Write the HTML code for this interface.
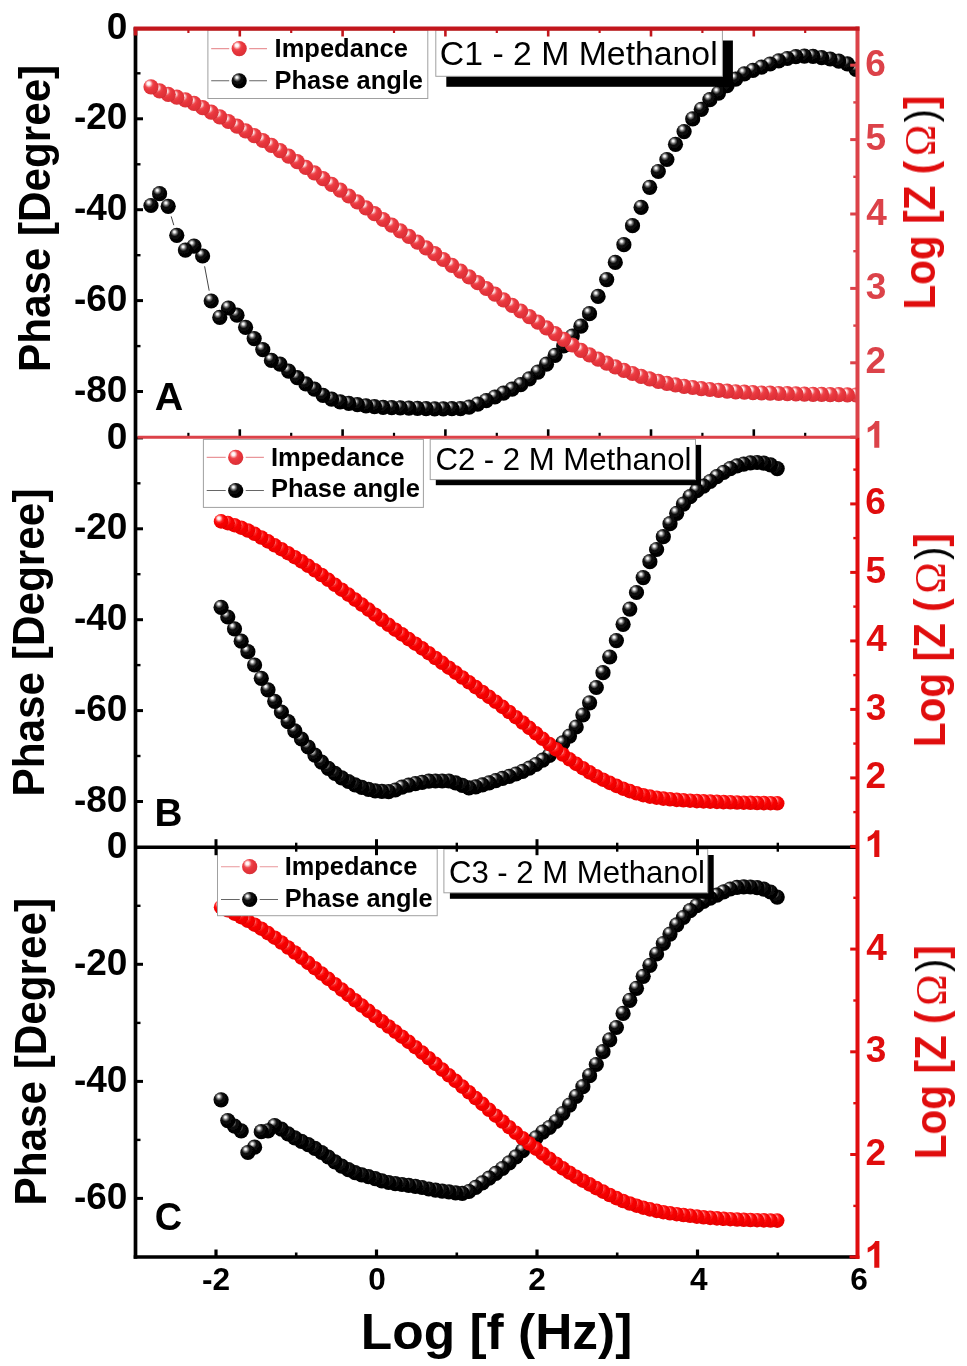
<!DOCTYPE html>
<html><head><meta charset="utf-8"><title>Bode plots</title>
<style>html,body{margin:0;padding:0;background:#fff}svg{display:block}text{font-family:"Liberation Sans",sans-serif}.b{font-weight:bold}.sf{font-family:"Liberation Serif",serif}</style></head><body>
<svg width="967" height="1366" viewBox="0 0 967 1366">
<defs>
<filter id="soft" x="-2%" y="-2%" width="104%" height="104%"><feGaussianBlur stdDeviation="0.5"/></filter>
<radialGradient id="gRA" cx="0.40" cy="0.36" r="0.70" fx="0.34" fy="0.27"><stop offset="0" stop-color="#ffffff"/><stop offset="0.15" stop-color="#fff0f0"/><stop offset="0.38" stop-color="#ee474d"/><stop offset="0.55" stop-color="#e8363c"/><stop offset="0.88" stop-color="#de3038"/><stop offset="1" stop-color="#bd242c"/></radialGradient>
<radialGradient id="gRB" cx="0.40" cy="0.36" r="0.70" fx="0.34" fy="0.27"><stop offset="0" stop-color="#ffffff"/><stop offset="0.14" stop-color="#ffe0e0"/><stop offset="0.36" stop-color="#ff2424"/><stop offset="0.55" stop-color="#f80000"/><stop offset="0.88" stop-color="#ec0000"/><stop offset="1" stop-color="#c00000"/></radialGradient>
<radialGradient id="gK" cx="0.40" cy="0.36" r="0.70" fx="0.34" fy="0.27"><stop offset="0" stop-color="#ffffff"/><stop offset="0.09" stop-color="#ececec"/><stop offset="0.23" stop-color="#707070"/><stop offset="0.39" stop-color="#0a0a0a"/><stop offset="1" stop-color="#000000"/></radialGradient>
<circle id="sRA" r="7.60" fill="url(#gRA)"/>
<circle id="sRB" r="7.30" fill="url(#gRB)"/>
<circle id="sK" r="7.60" fill="url(#gK)"/>
<clipPath id="cA"><rect x="135.5" y="28.0" width="723.5" height="409.3"/></clipPath>
<clipPath id="cB"><rect x="135.5" y="437.3" width="723.5" height="409.9"/></clipPath>
<clipPath id="cC"><rect x="135.5" y="847.2" width="723.5" height="409.8"/></clipPath>
</defs>
<rect width="967" height="1366" fill="#fff"/>
<g filter="url(#soft)">
<g clip-path="url(#cA)">
<path d="M171.2 216.4L173.8 225.2M204.6 266.3L209.2 290.7" fill="none" stroke="#444" stroke-width="1.0"/>
<use href="#sK" x="856.0" y="69.4"/><use href="#sK" x="847.4" y="63.9"/><use href="#sK" x="838.8" y="61.1"/><use href="#sK" x="830.2" y="59.0"/><use href="#sK" x="821.6" y="57.6"/><use href="#sK" x="813.0" y="56.4"/><use href="#sK" x="804.4" y="56.1"/><use href="#sK" x="795.9" y="56.7"/><use href="#sK" x="787.3" y="58.5"/><use href="#sK" x="778.7" y="60.8"/><use href="#sK" x="770.1" y="64.0"/><use href="#sK" x="761.5" y="67.1"/><use href="#sK" x="752.9" y="70.4"/><use href="#sK" x="744.3" y="73.8"/><use href="#sK" x="735.7" y="79.1"/><use href="#sK" x="727.1" y="85.6"/><use href="#sK" x="718.5" y="93.1"/><use href="#sK" x="709.9" y="99.7"/><use href="#sK" x="701.3" y="109.3"/><use href="#sK" x="692.7" y="118.9"/><use href="#sK" x="684.1" y="131.6"/><use href="#sK" x="675.5" y="144.3"/><use href="#sK" x="666.9" y="159.5"/><use href="#sK" x="658.3" y="171.5"/><use href="#sK" x="649.7" y="187.3"/><use href="#sK" x="641.1" y="207.3"/><use href="#sK" x="632.5" y="225.7"/><use href="#sK" x="623.9" y="244.7"/><use href="#sK" x="615.3" y="262.4"/><use href="#sK" x="606.7" y="279.6"/><use href="#sK" x="598.1" y="296.4"/><use href="#sK" x="589.5" y="313.7"/><use href="#sK" x="580.9" y="326.2"/><use href="#sK" x="572.3" y="336.1"/><use href="#sK" x="563.7" y="345.9"/><use href="#sK" x="555.1" y="355.4"/><use href="#sK" x="546.5" y="364.2"/><use href="#sK" x="537.9" y="372.1"/><use href="#sK" x="529.3" y="378.9"/><use href="#sK" x="520.7" y="384.7"/><use href="#sK" x="512.1" y="389.2"/><use href="#sK" x="503.5" y="393.2"/><use href="#sK" x="494.9" y="397.0"/><use href="#sK" x="486.3" y="400.6"/><use href="#sK" x="477.7" y="404.1"/><use href="#sK" x="469.1" y="407.1"/><use href="#sK" x="460.5" y="408.6"/><use href="#sK" x="451.9" y="408.7"/><use href="#sK" x="443.3" y="408.8"/><use href="#sK" x="434.7" y="408.8"/><use href="#sK" x="426.1" y="408.6"/><use href="#sK" x="417.5" y="408.3"/><use href="#sK" x="408.9" y="408.1"/><use href="#sK" x="400.3" y="407.9"/><use href="#sK" x="391.7" y="407.6"/><use href="#sK" x="383.1" y="407.4"/><use href="#sK" x="374.5" y="406.6"/><use href="#sK" x="366.0" y="405.8"/><use href="#sK" x="357.4" y="404.7"/><use href="#sK" x="348.8" y="403.4"/><use href="#sK" x="340.2" y="401.8"/><use href="#sK" x="331.6" y="399.1"/><use href="#sK" x="323.0" y="395.3"/><use href="#sK" x="314.4" y="389.1"/><use href="#sK" x="305.8" y="383.8"/><use href="#sK" x="297.2" y="377.6"/><use href="#sK" x="288.6" y="371.1"/><use href="#sK" x="280.0" y="364.1"/><use href="#sK" x="271.4" y="360.4"/><use href="#sK" x="262.8" y="349.6"/><use href="#sK" x="254.2" y="338.6"/><use href="#sK" x="245.6" y="327.3"/><use href="#sK" x="237.0" y="315.2"/><use href="#sK" x="228.4" y="308.0"/><use href="#sK" x="219.8" y="317.4"/><use href="#sK" x="211.2" y="301.0"/><use href="#sK" x="202.6" y="256.0"/><use href="#sK" x="194.0" y="246.1"/><use href="#sK" x="185.4" y="250.1"/><use href="#sK" x="176.8" y="235.3"/><use href="#sK" x="168.2" y="206.3"/><use href="#sK" x="159.6" y="193.7"/><use href="#sK" x="151.0" y="205.5"/>
<use href="#sRA" x="856.0" y="395.0"/><use href="#sRA" x="847.4" y="394.9"/><use href="#sRA" x="838.8" y="394.7"/><use href="#sRA" x="830.2" y="394.6"/><use href="#sRA" x="821.6" y="394.4"/><use href="#sRA" x="813.0" y="394.3"/><use href="#sRA" x="804.4" y="394.1"/><use href="#sRA" x="795.9" y="393.9"/><use href="#sRA" x="787.3" y="393.7"/><use href="#sRA" x="778.7" y="393.5"/><use href="#sRA" x="770.1" y="393.2"/><use href="#sRA" x="761.5" y="393.0"/><use href="#sRA" x="752.9" y="392.6"/><use href="#sRA" x="744.3" y="392.2"/><use href="#sRA" x="735.7" y="391.8"/><use href="#sRA" x="727.1" y="391.2"/><use href="#sRA" x="718.5" y="390.4"/><use href="#sRA" x="709.9" y="389.5"/><use href="#sRA" x="701.3" y="388.6"/><use href="#sRA" x="692.7" y="387.5"/><use href="#sRA" x="684.1" y="386.3"/><use href="#sRA" x="675.5" y="384.9"/><use href="#sRA" x="666.9" y="383.3"/><use href="#sRA" x="658.3" y="381.3"/><use href="#sRA" x="649.7" y="378.9"/><use href="#sRA" x="641.1" y="376.3"/><use href="#sRA" x="632.5" y="373.5"/><use href="#sRA" x="623.9" y="370.3"/><use href="#sRA" x="615.3" y="366.8"/><use href="#sRA" x="606.7" y="363.2"/><use href="#sRA" x="598.1" y="359.2"/><use href="#sRA" x="589.5" y="354.9"/><use href="#sRA" x="580.9" y="350.3"/><use href="#sRA" x="572.3" y="345.0"/><use href="#sRA" x="563.7" y="339.3"/><use href="#sRA" x="555.1" y="333.6"/><use href="#sRA" x="546.5" y="327.9"/><use href="#sRA" x="537.9" y="322.2"/><use href="#sRA" x="529.3" y="316.6"/><use href="#sRA" x="520.7" y="311.0"/><use href="#sRA" x="512.1" y="305.4"/><use href="#sRA" x="503.5" y="299.8"/><use href="#sRA" x="494.9" y="294.2"/><use href="#sRA" x="486.3" y="288.5"/><use href="#sRA" x="477.7" y="282.7"/><use href="#sRA" x="469.1" y="276.9"/><use href="#sRA" x="460.5" y="271.1"/><use href="#sRA" x="451.9" y="265.3"/><use href="#sRA" x="443.3" y="259.5"/><use href="#sRA" x="434.7" y="253.7"/><use href="#sRA" x="426.1" y="247.9"/><use href="#sRA" x="417.5" y="242.1"/><use href="#sRA" x="408.9" y="236.4"/><use href="#sRA" x="400.3" y="230.8"/><use href="#sRA" x="391.7" y="225.2"/><use href="#sRA" x="383.1" y="219.5"/><use href="#sRA" x="374.5" y="213.7"/><use href="#sRA" x="366.0" y="207.8"/><use href="#sRA" x="357.4" y="201.9"/><use href="#sRA" x="348.8" y="196.0"/><use href="#sRA" x="340.2" y="190.2"/><use href="#sRA" x="331.6" y="184.4"/><use href="#sRA" x="323.0" y="178.6"/><use href="#sRA" x="314.4" y="172.9"/><use href="#sRA" x="305.8" y="167.3"/><use href="#sRA" x="297.2" y="161.6"/><use href="#sRA" x="288.6" y="156.1"/><use href="#sRA" x="280.0" y="150.6"/><use href="#sRA" x="271.4" y="145.4"/><use href="#sRA" x="262.8" y="140.5"/><use href="#sRA" x="254.2" y="135.6"/><use href="#sRA" x="245.6" y="130.9"/><use href="#sRA" x="237.0" y="126.2"/><use href="#sRA" x="228.4" y="121.5"/><use href="#sRA" x="219.8" y="116.8"/><use href="#sRA" x="211.2" y="112.2"/><use href="#sRA" x="202.6" y="107.7"/><use href="#sRA" x="194.0" y="103.4"/><use href="#sRA" x="185.4" y="99.8"/><use href="#sRA" x="176.8" y="97.2"/><use href="#sRA" x="168.2" y="94.4"/><use href="#sRA" x="159.6" y="90.9"/><use href="#sRA" x="151.0" y="86.8"/>
</g><g clip-path="url(#cB)">

<use href="#sK" x="777.2" y="468.6"/><use href="#sK" x="770.5" y="464.8"/><use href="#sK" x="763.8" y="463.1"/><use href="#sK" x="757.1" y="462.5"/><use href="#sK" x="750.4" y="462.9"/><use href="#sK" x="743.7" y="464.1"/><use href="#sK" x="737.0" y="465.9"/><use href="#sK" x="730.3" y="468.6"/><use href="#sK" x="723.6" y="472.3"/><use href="#sK" x="716.9" y="476.6"/><use href="#sK" x="710.2" y="481.5"/><use href="#sK" x="703.5" y="486.2"/><use href="#sK" x="696.8" y="490.7"/><use href="#sK" x="690.1" y="496.7"/><use href="#sK" x="683.4" y="504.1"/><use href="#sK" x="676.7" y="513.3"/><use href="#sK" x="670.0" y="523.7"/><use href="#sK" x="663.3" y="536.7"/><use href="#sK" x="656.6" y="549.5"/><use href="#sK" x="649.9" y="561.7"/><use href="#sK" x="643.2" y="577.6"/><use href="#sK" x="636.5" y="592.5"/><use href="#sK" x="629.8" y="609.1"/><use href="#sK" x="623.1" y="624.3"/><use href="#sK" x="616.4" y="640.6"/><use href="#sK" x="609.7" y="657.0"/><use href="#sK" x="603.0" y="672.7"/><use href="#sK" x="596.3" y="687.5"/><use href="#sK" x="589.6" y="702.8"/><use href="#sK" x="582.9" y="715.0"/><use href="#sK" x="576.2" y="727.0"/><use href="#sK" x="569.5" y="736.1"/><use href="#sK" x="562.8" y="742.9"/><use href="#sK" x="556.1" y="749.4"/><use href="#sK" x="549.4" y="755.3"/><use href="#sK" x="542.7" y="760.2"/><use href="#sK" x="536.0" y="764.5"/><use href="#sK" x="529.3" y="768.2"/><use href="#sK" x="522.6" y="771.4"/><use href="#sK" x="515.9" y="774.0"/><use href="#sK" x="509.2" y="776.3"/><use href="#sK" x="502.5" y="778.4"/><use href="#sK" x="495.8" y="780.6"/><use href="#sK" x="489.1" y="782.8"/><use href="#sK" x="482.4" y="784.8"/><use href="#sK" x="475.7" y="786.9"/><use href="#sK" x="469.0" y="787.8"/><use href="#sK" x="462.3" y="785.4"/><use href="#sK" x="455.6" y="782.9"/><use href="#sK" x="448.9" y="781.0"/><use href="#sK" x="442.2" y="781.0"/><use href="#sK" x="435.5" y="781.0"/><use href="#sK" x="428.8" y="781.2"/><use href="#sK" x="422.1" y="782.3"/><use href="#sK" x="415.4" y="783.6"/><use href="#sK" x="408.7" y="785.2"/><use href="#sK" x="402.0" y="787.1"/><use href="#sK" x="395.3" y="790.0"/><use href="#sK" x="388.6" y="791.6"/><use href="#sK" x="381.9" y="791.4"/><use href="#sK" x="375.2" y="790.8"/><use href="#sK" x="368.5" y="789.4"/><use href="#sK" x="361.8" y="787.4"/><use href="#sK" x="355.1" y="784.8"/><use href="#sK" x="348.4" y="781.5"/><use href="#sK" x="341.7" y="777.8"/><use href="#sK" x="335.0" y="773.4"/><use href="#sK" x="328.3" y="768.3"/><use href="#sK" x="321.6" y="762.2"/><use href="#sK" x="314.9" y="755.1"/><use href="#sK" x="308.2" y="747.0"/><use href="#sK" x="301.5" y="739.0"/><use href="#sK" x="294.8" y="730.8"/><use href="#sK" x="288.1" y="721.7"/><use href="#sK" x="281.4" y="712.0"/><use href="#sK" x="274.7" y="701.3"/><use href="#sK" x="268.0" y="689.8"/><use href="#sK" x="261.3" y="678.3"/><use href="#sK" x="254.6" y="665.0"/><use href="#sK" x="247.9" y="651.7"/><use href="#sK" x="241.2" y="641.2"/><use href="#sK" x="234.5" y="628.8"/><use href="#sK" x="227.8" y="617.0"/><use href="#sK" x="221.1" y="607.3"/>
<use href="#sRB" x="777.2" y="803.3"/><use href="#sRB" x="770.5" y="803.2"/><use href="#sRB" x="763.8" y="803.1"/><use href="#sRB" x="757.1" y="803.0"/><use href="#sRB" x="750.4" y="802.8"/><use href="#sRB" x="743.7" y="802.7"/><use href="#sRB" x="737.0" y="802.5"/><use href="#sRB" x="730.3" y="802.3"/><use href="#sRB" x="723.6" y="802.1"/><use href="#sRB" x="716.9" y="801.9"/><use href="#sRB" x="710.2" y="801.6"/><use href="#sRB" x="703.5" y="801.4"/><use href="#sRB" x="696.8" y="801.1"/><use href="#sRB" x="690.1" y="800.7"/><use href="#sRB" x="683.4" y="800.3"/><use href="#sRB" x="676.7" y="799.9"/><use href="#sRB" x="670.0" y="799.3"/><use href="#sRB" x="663.3" y="798.6"/><use href="#sRB" x="656.6" y="797.7"/><use href="#sRB" x="649.9" y="796.6"/><use href="#sRB" x="643.2" y="795.2"/><use href="#sRB" x="636.5" y="793.3"/><use href="#sRB" x="629.8" y="791.1"/><use href="#sRB" x="623.1" y="788.7"/><use href="#sRB" x="616.4" y="785.9"/><use href="#sRB" x="609.7" y="782.9"/><use href="#sRB" x="603.0" y="779.7"/><use href="#sRB" x="596.3" y="776.2"/><use href="#sRB" x="589.6" y="772.4"/><use href="#sRB" x="582.9" y="768.2"/><use href="#sRB" x="576.2" y="763.9"/><use href="#sRB" x="569.5" y="759.3"/><use href="#sRB" x="562.8" y="754.5"/><use href="#sRB" x="556.1" y="749.4"/><use href="#sRB" x="549.4" y="744.1"/><use href="#sRB" x="542.7" y="738.8"/><use href="#sRB" x="536.0" y="733.4"/><use href="#sRB" x="529.3" y="727.9"/><use href="#sRB" x="522.6" y="722.5"/><use href="#sRB" x="515.9" y="717.2"/><use href="#sRB" x="509.2" y="712.0"/><use href="#sRB" x="502.5" y="706.9"/><use href="#sRB" x="495.8" y="701.8"/><use href="#sRB" x="489.1" y="696.9"/><use href="#sRB" x="482.4" y="692.0"/><use href="#sRB" x="475.7" y="687.1"/><use href="#sRB" x="469.0" y="682.3"/><use href="#sRB" x="462.3" y="677.5"/><use href="#sRB" x="455.6" y="672.6"/><use href="#sRB" x="448.9" y="667.7"/><use href="#sRB" x="442.2" y="662.8"/><use href="#sRB" x="435.5" y="658.0"/><use href="#sRB" x="428.8" y="653.2"/><use href="#sRB" x="422.1" y="648.4"/><use href="#sRB" x="415.4" y="643.7"/><use href="#sRB" x="408.7" y="639.1"/><use href="#sRB" x="402.0" y="634.4"/><use href="#sRB" x="395.3" y="629.7"/><use href="#sRB" x="388.6" y="624.8"/><use href="#sRB" x="381.9" y="619.8"/><use href="#sRB" x="375.2" y="614.7"/><use href="#sRB" x="368.5" y="609.6"/><use href="#sRB" x="361.8" y="604.6"/><use href="#sRB" x="355.1" y="599.6"/><use href="#sRB" x="348.4" y="594.6"/><use href="#sRB" x="341.7" y="589.7"/><use href="#sRB" x="335.0" y="584.8"/><use href="#sRB" x="328.3" y="579.8"/><use href="#sRB" x="321.6" y="575.0"/><use href="#sRB" x="314.9" y="570.3"/><use href="#sRB" x="308.2" y="565.8"/><use href="#sRB" x="301.5" y="561.4"/><use href="#sRB" x="294.8" y="557.2"/><use href="#sRB" x="288.1" y="553.2"/><use href="#sRB" x="281.4" y="549.2"/><use href="#sRB" x="274.7" y="545.3"/><use href="#sRB" x="268.0" y="541.4"/><use href="#sRB" x="261.3" y="537.5"/><use href="#sRB" x="254.6" y="533.8"/><use href="#sRB" x="247.9" y="530.5"/><use href="#sRB" x="241.2" y="527.7"/><use href="#sRB" x="234.5" y="525.2"/><use href="#sRB" x="227.8" y="523.1"/><use href="#sRB" x="221.1" y="521.4"/>
</g><g clip-path="url(#cC)">

<use href="#sK" x="777.2" y="897.1"/><use href="#sK" x="770.5" y="892.0"/><use href="#sK" x="763.8" y="889.2"/><use href="#sK" x="757.1" y="887.7"/><use href="#sK" x="750.4" y="887.0"/><use href="#sK" x="743.7" y="886.8"/><use href="#sK" x="737.0" y="887.4"/><use href="#sK" x="730.3" y="889.0"/><use href="#sK" x="723.6" y="891.8"/><use href="#sK" x="716.9" y="895.1"/><use href="#sK" x="710.2" y="898.1"/><use href="#sK" x="703.5" y="901.4"/><use href="#sK" x="696.8" y="905.7"/><use href="#sK" x="690.1" y="910.7"/><use href="#sK" x="683.4" y="917.5"/><use href="#sK" x="676.7" y="924.9"/><use href="#sK" x="670.0" y="934.1"/><use href="#sK" x="663.3" y="943.5"/><use href="#sK" x="656.6" y="954.0"/><use href="#sK" x="649.9" y="965.3"/><use href="#sK" x="643.2" y="976.3"/><use href="#sK" x="636.5" y="988.3"/><use href="#sK" x="629.8" y="1000.3"/><use href="#sK" x="623.1" y="1013.4"/><use href="#sK" x="616.4" y="1027.5"/><use href="#sK" x="609.7" y="1039.9"/><use href="#sK" x="603.0" y="1051.7"/><use href="#sK" x="596.3" y="1064.5"/><use href="#sK" x="589.6" y="1075.7"/><use href="#sK" x="582.9" y="1086.7"/><use href="#sK" x="576.2" y="1096.3"/><use href="#sK" x="569.5" y="1105.1"/><use href="#sK" x="562.8" y="1113.5"/><use href="#sK" x="556.1" y="1121.5"/><use href="#sK" x="549.4" y="1127.5"/><use href="#sK" x="542.7" y="1132.1"/><use href="#sK" x="536.0" y="1137.8"/><use href="#sK" x="529.3" y="1144.3"/><use href="#sK" x="522.6" y="1150.7"/><use href="#sK" x="515.9" y="1156.9"/><use href="#sK" x="509.2" y="1162.9"/><use href="#sK" x="502.5" y="1168.5"/><use href="#sK" x="495.8" y="1173.4"/><use href="#sK" x="489.1" y="1178.2"/><use href="#sK" x="482.4" y="1182.9"/><use href="#sK" x="475.7" y="1187.4"/><use href="#sK" x="469.0" y="1191.5"/><use href="#sK" x="462.3" y="1193.4"/><use href="#sK" x="455.6" y="1192.8"/><use href="#sK" x="448.9" y="1191.9"/><use href="#sK" x="442.2" y="1191.1"/><use href="#sK" x="435.5" y="1190.1"/><use href="#sK" x="428.8" y="1189.0"/><use href="#sK" x="422.1" y="1187.5"/><use href="#sK" x="415.4" y="1186.3"/><use href="#sK" x="408.7" y="1185.4"/><use href="#sK" x="402.0" y="1184.5"/><use href="#sK" x="395.3" y="1183.6"/><use href="#sK" x="388.6" y="1182.5"/><use href="#sK" x="381.9" y="1180.9"/><use href="#sK" x="375.2" y="1178.7"/><use href="#sK" x="368.5" y="1176.7"/><use href="#sK" x="361.8" y="1174.8"/><use href="#sK" x="355.1" y="1172.7"/><use href="#sK" x="348.4" y="1169.7"/><use href="#sK" x="341.7" y="1166.1"/><use href="#sK" x="335.0" y="1161.9"/><use href="#sK" x="328.3" y="1157.0"/><use href="#sK" x="321.6" y="1152.5"/><use href="#sK" x="314.9" y="1148.4"/><use href="#sK" x="308.2" y="1144.6"/><use href="#sK" x="301.5" y="1141.3"/><use href="#sK" x="294.8" y="1137.9"/><use href="#sK" x="288.1" y="1133.9"/><use href="#sK" x="281.4" y="1129.2"/><use href="#sK" x="274.7" y="1125.5"/><use href="#sK" x="268.0" y="1130.8"/><use href="#sK" x="261.3" y="1131.7"/><use href="#sK" x="254.6" y="1147.2"/><use href="#sK" x="247.9" y="1152.5"/><use href="#sK" x="241.2" y="1130.8"/><use href="#sK" x="234.5" y="1126.1"/><use href="#sK" x="227.8" y="1120.6"/><use href="#sK" x="221.1" y="1099.8"/>
<use href="#sRB" x="777.2" y="1220.6"/><use href="#sRB" x="770.5" y="1220.5"/><use href="#sRB" x="763.8" y="1220.4"/><use href="#sRB" x="757.1" y="1220.2"/><use href="#sRB" x="750.4" y="1220.0"/><use href="#sRB" x="743.7" y="1219.8"/><use href="#sRB" x="737.0" y="1219.5"/><use href="#sRB" x="730.3" y="1219.2"/><use href="#sRB" x="723.6" y="1218.8"/><use href="#sRB" x="716.9" y="1218.4"/><use href="#sRB" x="710.2" y="1217.9"/><use href="#sRB" x="703.5" y="1217.3"/><use href="#sRB" x="696.8" y="1216.6"/><use href="#sRB" x="690.1" y="1215.8"/><use href="#sRB" x="683.4" y="1215.0"/><use href="#sRB" x="676.7" y="1214.2"/><use href="#sRB" x="670.0" y="1213.3"/><use href="#sRB" x="663.3" y="1212.2"/><use href="#sRB" x="656.6" y="1210.9"/><use href="#sRB" x="649.9" y="1209.4"/><use href="#sRB" x="643.2" y="1207.7"/><use href="#sRB" x="636.5" y="1205.7"/><use href="#sRB" x="629.8" y="1203.5"/><use href="#sRB" x="623.1" y="1201.0"/><use href="#sRB" x="616.4" y="1198.1"/><use href="#sRB" x="609.7" y="1195.0"/><use href="#sRB" x="603.0" y="1191.6"/><use href="#sRB" x="596.3" y="1188.1"/><use href="#sRB" x="589.6" y="1184.4"/><use href="#sRB" x="582.9" y="1180.7"/><use href="#sRB" x="576.2" y="1176.8"/><use href="#sRB" x="569.5" y="1172.7"/><use href="#sRB" x="562.8" y="1168.4"/><use href="#sRB" x="556.1" y="1163.7"/><use href="#sRB" x="549.4" y="1158.7"/><use href="#sRB" x="542.7" y="1153.7"/><use href="#sRB" x="536.0" y="1148.6"/><use href="#sRB" x="529.3" y="1143.5"/><use href="#sRB" x="522.6" y="1138.2"/><use href="#sRB" x="515.9" y="1132.8"/><use href="#sRB" x="509.2" y="1127.2"/><use href="#sRB" x="502.5" y="1121.5"/><use href="#sRB" x="495.8" y="1115.7"/><use href="#sRB" x="489.1" y="1109.8"/><use href="#sRB" x="482.4" y="1103.9"/><use href="#sRB" x="475.7" y="1098.1"/><use href="#sRB" x="469.0" y="1092.3"/><use href="#sRB" x="462.3" y="1086.6"/><use href="#sRB" x="455.6" y="1080.9"/><use href="#sRB" x="448.9" y="1075.3"/><use href="#sRB" x="442.2" y="1069.6"/><use href="#sRB" x="435.5" y="1063.9"/><use href="#sRB" x="428.8" y="1058.2"/><use href="#sRB" x="422.1" y="1052.6"/><use href="#sRB" x="415.4" y="1047.2"/><use href="#sRB" x="408.7" y="1041.9"/><use href="#sRB" x="402.0" y="1036.7"/><use href="#sRB" x="395.3" y="1031.6"/><use href="#sRB" x="388.6" y="1026.5"/><use href="#sRB" x="381.9" y="1021.3"/><use href="#sRB" x="375.2" y="1016.2"/><use href="#sRB" x="368.5" y="1010.9"/><use href="#sRB" x="361.8" y="1005.6"/><use href="#sRB" x="355.1" y="1000.3"/><use href="#sRB" x="348.4" y="994.9"/><use href="#sRB" x="341.7" y="989.6"/><use href="#sRB" x="335.0" y="984.2"/><use href="#sRB" x="328.3" y="978.9"/><use href="#sRB" x="321.6" y="973.6"/><use href="#sRB" x="314.9" y="968.2"/><use href="#sRB" x="308.2" y="962.9"/><use href="#sRB" x="301.5" y="957.6"/><use href="#sRB" x="294.8" y="952.5"/><use href="#sRB" x="288.1" y="947.5"/><use href="#sRB" x="281.4" y="942.5"/><use href="#sRB" x="274.7" y="937.7"/><use href="#sRB" x="268.0" y="933.1"/><use href="#sRB" x="261.3" y="928.7"/><use href="#sRB" x="254.6" y="924.7"/><use href="#sRB" x="247.9" y="920.8"/><use href="#sRB" x="241.2" y="917.1"/><use href="#sRB" x="234.5" y="913.6"/><use href="#sRB" x="227.8" y="910.3"/><use href="#sRB" x="221.1" y="907.2"/>
</g>
<rect x="207.9" y="30.0" width="219.9" height="68.5" fill="#fff" stroke="#a0a0a0" stroke-width="1"/>
<path d="M211.2 48.6H229.2M249.2 48.6H267.0" stroke="#e9969a" stroke-width="1.1" fill="none"/>
<use href="#sRA" x="239.2" y="48.6"/>
<text class="b" x="274.59" y="57.00" font-size="26.00" fill="#000" textLength="133.28" lengthAdjust="spacingAndGlyphs">Impedance</text>
<path d="M211.2 80.8H229.2M249.2 80.8H267.0" stroke="#666" stroke-width="1.1" fill="none"/>
<use href="#sK" x="239.2" y="80.8"/>
<text class="b" x="274.60" y="89.20" font-size="26.00" fill="#000" textLength="148.27" lengthAdjust="spacingAndGlyphs">Phase angle</text>
<rect x="203.4" y="439.4" width="220.0" height="68.0" fill="#fff" stroke="#a0a0a0" stroke-width="1"/>
<path d="M206.7 457.4H225.7M245.7 457.4H263.9" stroke="#e9969a" stroke-width="1.1" fill="none"/>
<use href="#sRA" x="235.7" y="457.4"/>
<text class="b" x="270.89" y="465.70" font-size="26.00" fill="#000" textLength="133.58" lengthAdjust="spacingAndGlyphs">Impedance</text>
<path d="M206.7 490.5H225.7M245.7 490.5H263.9" stroke="#666" stroke-width="1.1" fill="none"/>
<use href="#sK" x="235.7" y="490.5"/>
<text class="b" x="270.89" y="497.40" font-size="26.00" fill="#000" textLength="148.98" lengthAdjust="spacingAndGlyphs">Phase angle</text>
<rect x="217.5" y="849.0" width="219.7" height="66.7" fill="#fff" stroke="#a0a0a0" stroke-width="1"/>
<path d="M221.0 866.7H239.7M259.7 866.7H278.0" stroke="#e9969a" stroke-width="1.1" fill="none"/>
<use href="#sRA" x="249.7" y="866.7"/>
<text class="b" x="284.70" y="875.20" font-size="26.00" fill="#000" textLength="132.56" lengthAdjust="spacingAndGlyphs">Impedance</text>
<path d="M221.0 899.5H239.7M259.7 899.5H278.0" stroke="#666" stroke-width="1.1" fill="none"/>
<use href="#sK" x="249.7" y="899.5"/>
<text class="b" x="284.71" y="907.20" font-size="26.00" fill="#000" textLength="147.86" lengthAdjust="spacingAndGlyphs">Phase angle</text>
<rect x="446.3" y="40.5" width="286.6" height="46.3" fill="#000"/>
<rect x="435.8" y="30.0" width="286.6" height="46.3" fill="#fff" stroke="#a0a0a0" stroke-width="1"/>
<text x="439.89" y="64.70" font-size="33.40" fill="#000" textLength="277.77" lengthAdjust="spacingAndGlyphs">C1 - 2 M Methanol</text>
<rect x="435.8" y="444.9" width="265.3" height="40.3" fill="#000"/>
<rect x="430.2" y="439.3" width="265.3" height="40.3" fill="#fff" stroke="#a0a0a0" stroke-width="1"/>
<text x="435.42" y="470.30" font-size="31.50" fill="#000" textLength="255.96" lengthAdjust="spacingAndGlyphs">C2 - 2 M Methanol</text>
<rect x="449.9" y="855.0" width="263.8" height="43.8" fill="#000"/>
<rect x="443.9" y="849.0" width="263.8" height="43.8" fill="#fff" stroke="#a0a0a0" stroke-width="1"/>
<text x="448.92" y="883.30" font-size="31.50" fill="#000" textLength="255.96" lengthAdjust="spacingAndGlyphs">C3 - 2 M Methanol</text>
<line x1="239.8" y1="429.3" x2="239.8" y2="437.3" stroke="#000" stroke-width="2.6"/>
<line x1="342.6" y1="429.3" x2="342.6" y2="437.3" stroke="#000" stroke-width="2.6"/>
<line x1="445.4" y1="429.3" x2="445.4" y2="437.3" stroke="#000" stroke-width="2.6"/>
<line x1="548.2" y1="429.3" x2="548.2" y2="437.3" stroke="#000" stroke-width="2.6"/>
<line x1="651.0" y1="429.3" x2="651.0" y2="437.3" stroke="#000" stroke-width="2.6"/>
<line x1="753.8" y1="429.3" x2="753.8" y2="437.3" stroke="#000" stroke-width="2.6"/>
<line x1="188.4" y1="432.8" x2="188.4" y2="437.3" stroke="#000" stroke-width="2.2"/>
<line x1="291.2" y1="432.8" x2="291.2" y2="437.3" stroke="#000" stroke-width="2.2"/>
<line x1="394.0" y1="432.8" x2="394.0" y2="437.3" stroke="#000" stroke-width="2.2"/>
<line x1="496.8" y1="432.8" x2="496.8" y2="437.3" stroke="#000" stroke-width="2.2"/>
<line x1="599.6" y1="432.8" x2="599.6" y2="437.3" stroke="#000" stroke-width="2.2"/>
<line x1="702.4" y1="432.8" x2="702.4" y2="437.3" stroke="#000" stroke-width="2.2"/>
<line x1="805.2" y1="432.8" x2="805.2" y2="437.3" stroke="#000" stroke-width="2.2"/>
<line x1="239.8" y1="28.0" x2="239.8" y2="36.5" stroke="#c2181e" stroke-width="2.6"/>
<line x1="342.6" y1="28.0" x2="342.6" y2="36.5" stroke="#c2181e" stroke-width="2.6"/>
<line x1="445.4" y1="28.0" x2="445.4" y2="36.5" stroke="#c2181e" stroke-width="2.6"/>
<line x1="548.2" y1="28.0" x2="548.2" y2="36.5" stroke="#c2181e" stroke-width="2.6"/>
<line x1="651.0" y1="28.0" x2="651.0" y2="36.5" stroke="#c2181e" stroke-width="2.6"/>
<line x1="753.8" y1="28.0" x2="753.8" y2="36.5" stroke="#c2181e" stroke-width="2.6"/>
<line x1="188.4" y1="28.0" x2="188.4" y2="33.0" stroke="#c2181e" stroke-width="2.2"/>
<line x1="291.2" y1="28.0" x2="291.2" y2="33.0" stroke="#c2181e" stroke-width="2.2"/>
<line x1="394.0" y1="28.0" x2="394.0" y2="33.0" stroke="#c2181e" stroke-width="2.2"/>
<line x1="496.8" y1="28.0" x2="496.8" y2="33.0" stroke="#c2181e" stroke-width="2.2"/>
<line x1="599.6" y1="28.0" x2="599.6" y2="33.0" stroke="#c2181e" stroke-width="2.2"/>
<line x1="702.4" y1="28.0" x2="702.4" y2="33.0" stroke="#c2181e" stroke-width="2.2"/>
<line x1="805.2" y1="28.0" x2="805.2" y2="33.0" stroke="#c2181e" stroke-width="2.2"/>
<line x1="216.0" y1="839.2" x2="216.0" y2="855.2" stroke="#000" stroke-width="3.0"/>
<line x1="216.0" y1="1249.5" x2="216.0" y2="1257.0" stroke="#000" stroke-width="3.2"/>
<line x1="376.5" y1="839.2" x2="376.5" y2="855.2" stroke="#000" stroke-width="3.0"/>
<line x1="376.5" y1="1249.5" x2="376.5" y2="1257.0" stroke="#000" stroke-width="3.2"/>
<line x1="537.0" y1="839.2" x2="537.0" y2="855.2" stroke="#000" stroke-width="3.0"/>
<line x1="537.0" y1="1249.5" x2="537.0" y2="1257.0" stroke="#000" stroke-width="3.2"/>
<line x1="697.5" y1="839.2" x2="697.5" y2="855.2" stroke="#000" stroke-width="3.0"/>
<line x1="697.5" y1="1249.5" x2="697.5" y2="1257.0" stroke="#000" stroke-width="3.2"/>
<line x1="296.2" y1="842.7" x2="296.2" y2="851.7" stroke="#000" stroke-width="2.4"/>
<line x1="296.2" y1="1252.5" x2="296.2" y2="1257.0" stroke="#000" stroke-width="2.6"/>
<line x1="456.8" y1="842.7" x2="456.8" y2="851.7" stroke="#000" stroke-width="2.4"/>
<line x1="456.8" y1="1252.5" x2="456.8" y2="1257.0" stroke="#000" stroke-width="2.6"/>
<line x1="617.2" y1="842.7" x2="617.2" y2="851.7" stroke="#000" stroke-width="2.4"/>
<line x1="617.2" y1="1252.5" x2="617.2" y2="1257.0" stroke="#000" stroke-width="2.6"/>
<line x1="777.8" y1="842.7" x2="777.8" y2="851.7" stroke="#000" stroke-width="2.4"/>
<line x1="777.8" y1="1252.5" x2="777.8" y2="1257.0" stroke="#000" stroke-width="2.6"/>
<line x1="135.5" y1="118.8" x2="143.0" y2="118.8" stroke="#000" stroke-width="3.0"/>
<line x1="135.5" y1="209.7" x2="143.0" y2="209.7" stroke="#000" stroke-width="3.0"/>
<line x1="135.5" y1="300.6" x2="143.0" y2="300.6" stroke="#000" stroke-width="3.0"/>
<line x1="135.5" y1="391.5" x2="143.0" y2="391.5" stroke="#000" stroke-width="3.0"/>
<line x1="135.5" y1="73.3" x2="140.5" y2="73.3" stroke="#000" stroke-width="2.4"/>
<line x1="135.5" y1="164.3" x2="140.5" y2="164.3" stroke="#000" stroke-width="2.4"/>
<line x1="135.5" y1="255.2" x2="140.5" y2="255.2" stroke="#000" stroke-width="2.4"/>
<line x1="135.5" y1="346.1" x2="140.5" y2="346.1" stroke="#000" stroke-width="2.4"/>
<line x1="135.5" y1="528.8" x2="143.0" y2="528.8" stroke="#000" stroke-width="3.0"/>
<line x1="135.5" y1="619.7" x2="143.0" y2="619.7" stroke="#000" stroke-width="3.0"/>
<line x1="135.5" y1="710.6" x2="143.0" y2="710.6" stroke="#000" stroke-width="3.0"/>
<line x1="135.5" y1="801.5" x2="143.0" y2="801.5" stroke="#000" stroke-width="3.0"/>
<line x1="135.5" y1="483.3" x2="140.5" y2="483.3" stroke="#000" stroke-width="2.4"/>
<line x1="135.5" y1="574.2" x2="140.5" y2="574.2" stroke="#000" stroke-width="2.4"/>
<line x1="135.5" y1="665.1" x2="140.5" y2="665.1" stroke="#000" stroke-width="2.4"/>
<line x1="135.5" y1="756.0" x2="140.5" y2="756.0" stroke="#000" stroke-width="2.4"/>
<line x1="135.5" y1="964.3" x2="143.0" y2="964.3" stroke="#000" stroke-width="3.0"/>
<line x1="135.5" y1="1081.4" x2="143.0" y2="1081.4" stroke="#000" stroke-width="3.0"/>
<line x1="135.5" y1="1198.4" x2="143.0" y2="1198.4" stroke="#000" stroke-width="3.0"/>
<line x1="135.5" y1="905.8" x2="140.5" y2="905.8" stroke="#000" stroke-width="2.4"/>
<line x1="135.5" y1="1022.9" x2="140.5" y2="1022.9" stroke="#000" stroke-width="2.4"/>
<line x1="135.5" y1="1139.9" x2="140.5" y2="1139.9" stroke="#000" stroke-width="2.4"/>
<line x1="135.5" y1="437.9" x2="143.0" y2="437.9" stroke="#000" stroke-width="3.0"/>
<line x1="850.2" y1="437.2" x2="857.5" y2="437.2" stroke="#dc4249" stroke-width="3.0"/>
<line x1="850.2" y1="362.8" x2="857.5" y2="362.8" stroke="#dc4249" stroke-width="3.0"/>
<line x1="850.2" y1="288.4" x2="857.5" y2="288.4" stroke="#dc4249" stroke-width="3.0"/>
<line x1="850.2" y1="214.0" x2="857.5" y2="214.0" stroke="#dc4249" stroke-width="3.0"/>
<line x1="850.2" y1="139.6" x2="857.5" y2="139.6" stroke="#dc4249" stroke-width="3.0"/>
<line x1="850.2" y1="65.2" x2="857.5" y2="65.2" stroke="#dc4249" stroke-width="3.0"/>
<line x1="853.3" y1="400.0" x2="857.5" y2="400.0" stroke="#dc4249" stroke-width="2.4"/>
<line x1="853.3" y1="325.6" x2="857.5" y2="325.6" stroke="#dc4249" stroke-width="2.4"/>
<line x1="853.3" y1="251.2" x2="857.5" y2="251.2" stroke="#dc4249" stroke-width="2.4"/>
<line x1="853.3" y1="176.8" x2="857.5" y2="176.8" stroke="#dc4249" stroke-width="2.4"/>
<line x1="853.3" y1="102.4" x2="857.5" y2="102.4" stroke="#dc4249" stroke-width="2.4"/>
<line x1="850.2" y1="846.4" x2="857.5" y2="846.4" stroke="#e00c10" stroke-width="3.0"/>
<line x1="850.2" y1="777.9" x2="857.5" y2="777.9" stroke="#e00c10" stroke-width="3.0"/>
<line x1="850.2" y1="709.4" x2="857.5" y2="709.4" stroke="#e00c10" stroke-width="3.0"/>
<line x1="850.2" y1="640.9" x2="857.5" y2="640.9" stroke="#e00c10" stroke-width="3.0"/>
<line x1="850.2" y1="572.4" x2="857.5" y2="572.4" stroke="#e00c10" stroke-width="3.0"/>
<line x1="850.2" y1="503.9" x2="857.5" y2="503.9" stroke="#e00c10" stroke-width="3.0"/>
<line x1="853.3" y1="812.1" x2="857.5" y2="812.1" stroke="#e00c10" stroke-width="2.4"/>
<line x1="853.3" y1="743.6" x2="857.5" y2="743.6" stroke="#e00c10" stroke-width="2.4"/>
<line x1="853.3" y1="675.1" x2="857.5" y2="675.1" stroke="#e00c10" stroke-width="2.4"/>
<line x1="853.3" y1="606.6" x2="857.5" y2="606.6" stroke="#e00c10" stroke-width="2.4"/>
<line x1="853.3" y1="538.1" x2="857.5" y2="538.1" stroke="#e00c10" stroke-width="2.4"/>
<line x1="853.3" y1="469.6" x2="857.5" y2="469.6" stroke="#e00c10" stroke-width="2.4"/>
<line x1="850.2" y1="1257.2" x2="857.5" y2="1257.2" stroke="#e00c10" stroke-width="3.0"/>
<line x1="850.2" y1="1154.5" x2="857.5" y2="1154.5" stroke="#e00c10" stroke-width="3.0"/>
<line x1="850.2" y1="1051.8" x2="857.5" y2="1051.8" stroke="#e00c10" stroke-width="3.0"/>
<line x1="850.2" y1="949.1" x2="857.5" y2="949.1" stroke="#e00c10" stroke-width="3.0"/>
<line x1="853.3" y1="1205.9" x2="857.5" y2="1205.9" stroke="#e00c10" stroke-width="2.4"/>
<line x1="853.3" y1="1103.2" x2="857.5" y2="1103.2" stroke="#e00c10" stroke-width="2.4"/>
<line x1="853.3" y1="1000.5" x2="857.5" y2="1000.5" stroke="#e00c10" stroke-width="2.4"/>
<line x1="853.3" y1="897.8" x2="857.5" y2="897.8" stroke="#e00c10" stroke-width="2.4"/>
<line x1="135.5" y1="27.0" x2="135.5" y2="1258.8" stroke="#000" stroke-width="3.7"/>
<line x1="133.7" y1="1257.0" x2="857.5" y2="1257.0" stroke="#000" stroke-width="3.7"/>
<line x1="135.5" y1="847.2" x2="857.5" y2="847.2" stroke="#000" stroke-width="3.6"/>
<line x1="857.5" y1="26.5" x2="857.5" y2="437.3" stroke="#dc4249" stroke-width="4.0"/>
<line x1="857.5" y1="437.3" x2="857.5" y2="1259.0" stroke="#e00c10" stroke-width="4.0"/>
<line x1="133.7" y1="28.6" x2="859.5" y2="28.6" stroke="#c2181e" stroke-width="4.2"/>
<line x1="135.5" y1="28.0" x2="135.5" y2="35.5" stroke="#c2181e" stroke-width="3.7"/>
<line x1="137.5" y1="437.3" x2="857.5" y2="437.3" stroke="#dc4249" stroke-width="3.1"/>
<line x1="850.2" y1="846.6" x2="857.5" y2="846.6" stroke="#e00c10" stroke-width="3.0"/>
<line x1="849.5" y1="1257.0" x2="859.5" y2="1257.0" stroke="#e00c10" stroke-width="3.0"/>
<text class="b" x="106.84" y="38.50" font-size="37.00" fill="#000" textLength="20.58" lengthAdjust="spacingAndGlyphs">0</text>
<text class="b" x="73.94" y="129.40" font-size="37.00" fill="#000" textLength="53.48" lengthAdjust="spacingAndGlyphs">-20</text>
<text class="b" x="73.94" y="220.30" font-size="37.00" fill="#000" textLength="53.48" lengthAdjust="spacingAndGlyphs">-40</text>
<text class="b" x="73.94" y="311.20" font-size="37.00" fill="#000" textLength="53.48" lengthAdjust="spacingAndGlyphs">-60</text>
<text class="b" x="73.94" y="402.10" font-size="37.00" fill="#000" textLength="53.48" lengthAdjust="spacingAndGlyphs">-80</text>
<text class="b" x="106.84" y="448.50" font-size="37.00" fill="#000" textLength="20.58" lengthAdjust="spacingAndGlyphs">0</text>
<text class="b" x="73.94" y="539.40" font-size="37.00" fill="#000" textLength="53.48" lengthAdjust="spacingAndGlyphs">-20</text>
<text class="b" x="73.94" y="630.30" font-size="37.00" fill="#000" textLength="53.48" lengthAdjust="spacingAndGlyphs">-40</text>
<text class="b" x="73.94" y="721.20" font-size="37.00" fill="#000" textLength="53.48" lengthAdjust="spacingAndGlyphs">-60</text>
<text class="b" x="73.94" y="812.10" font-size="37.00" fill="#000" textLength="53.48" lengthAdjust="spacingAndGlyphs">-80</text>
<text class="b" x="106.84" y="857.90" font-size="37.00" fill="#000" textLength="20.58" lengthAdjust="spacingAndGlyphs">0</text>
<text class="b" x="73.94" y="974.95" font-size="37.00" fill="#000" textLength="53.48" lengthAdjust="spacingAndGlyphs">-20</text>
<text class="b" x="73.94" y="1092.00" font-size="37.00" fill="#000" textLength="53.48" lengthAdjust="spacingAndGlyphs">-40</text>
<text class="b" x="73.94" y="1209.05" font-size="37.00" fill="#000" textLength="53.48" lengthAdjust="spacingAndGlyphs">-60</text>
<path transform="translate(864.77 447.70) scale(0.01807 -0.01807)" fill="#dc4249" d="M806 0H525V1059Q371 915 162 846V1101Q272 1137 401 1237.5Q530 1338 578 1472H806Z"/>
<text class="b" x="865.42" y="373.30" font-size="37.00" fill="#dc4249" textLength="20.58" lengthAdjust="spacingAndGlyphs">2</text>
<text class="b" x="865.85" y="298.90" font-size="37.00" fill="#dc4249" textLength="20.58" lengthAdjust="spacingAndGlyphs">3</text>
<text class="b" x="866.14" y="224.50" font-size="37.00" fill="#dc4249" textLength="20.58" lengthAdjust="spacingAndGlyphs">4</text>
<text class="b" x="865.56" y="150.10" font-size="37.00" fill="#dc4249" textLength="20.58" lengthAdjust="spacingAndGlyphs">5</text>
<text class="b" x="865.35" y="75.70" font-size="37.00" fill="#dc4249" textLength="20.58" lengthAdjust="spacingAndGlyphs">6</text>
<path transform="translate(864.77 856.90) scale(0.01807 -0.01807)" fill="#e00c10" d="M806 0H525V1059Q371 915 162 846V1101Q272 1137 401 1237.5Q530 1338 578 1472H806Z"/>
<text class="b" x="865.42" y="788.40" font-size="37.00" fill="#e00c10" textLength="20.58" lengthAdjust="spacingAndGlyphs">2</text>
<text class="b" x="865.85" y="719.90" font-size="37.00" fill="#e00c10" textLength="20.58" lengthAdjust="spacingAndGlyphs">3</text>
<text class="b" x="866.14" y="651.40" font-size="37.00" fill="#e00c10" textLength="20.58" lengthAdjust="spacingAndGlyphs">4</text>
<text class="b" x="865.56" y="582.90" font-size="37.00" fill="#e00c10" textLength="20.58" lengthAdjust="spacingAndGlyphs">5</text>
<text class="b" x="865.35" y="514.40" font-size="37.00" fill="#e00c10" textLength="20.58" lengthAdjust="spacingAndGlyphs">6</text>
<path transform="translate(864.77 1267.70) scale(0.01807 -0.01807)" fill="#e00c10" d="M806 0H525V1059Q371 915 162 846V1101Q272 1137 401 1237.5Q530 1338 578 1472H806Z"/>
<text class="b" x="865.42" y="1165.00" font-size="37.00" fill="#e00c10" textLength="20.58" lengthAdjust="spacingAndGlyphs">2</text>
<text class="b" x="865.85" y="1062.30" font-size="37.00" fill="#e00c10" textLength="20.58" lengthAdjust="spacingAndGlyphs">3</text>
<text class="b" x="866.14" y="959.60" font-size="37.00" fill="#e00c10" textLength="20.58" lengthAdjust="spacingAndGlyphs">4</text>
<text class="b" x="201.96" y="1289.50" font-size="31.00" fill="#000" textLength="28.12" lengthAdjust="spacingAndGlyphs">-2</text>
<text class="b" x="368.23" y="1289.50" font-size="31.00" fill="#000" textLength="17.59" lengthAdjust="spacingAndGlyphs">0</text>
<text class="b" x="528.29" y="1289.50" font-size="31.00" fill="#000" textLength="17.59" lengthAdjust="spacingAndGlyphs">2</text>
<text class="b" x="690.05" y="1289.50" font-size="31.00" fill="#000" textLength="17.59" lengthAdjust="spacingAndGlyphs">4</text>
<text class="b" x="850.20" y="1289.50" font-size="31.00" fill="#000" textLength="17.59" lengthAdjust="spacingAndGlyphs">6</text>
<text class="b" transform="translate(50.40 369.20) rotate(-90)" x="-2.82" y="0" font-size="43.60" fill="#000" textLength="307.19" lengthAdjust="spacingAndGlyphs">Phase [Degree]</text>
<text class="b" transform="translate(44.00 793.70) rotate(-90)" x="-2.83" y="0" font-size="43.60" fill="#000" textLength="308.01" lengthAdjust="spacingAndGlyphs">Phase [Degree]</text>
<text class="b" transform="translate(45.60 1202.60) rotate(-90)" x="-2.83" y="0" font-size="43.60" fill="#000" textLength="307.50" lengthAdjust="spacingAndGlyphs">Phase [Degree]</text>
<g transform="translate(935.00 306.80) rotate(-90) scale(0.930 1)">
<text class="b" x="-2.92" y="0" font-size="43.60" fill="#e00c10">Log [Z (</text>
<text class="sf" x="162.04" y="0" font-size="45.34" fill="#e00c10">&#937;</text>
<text x="198.28" y="0" font-size="42.73" fill="#000">)</text>
<text class="b" x="212.47" y="0" font-size="43.60" fill="#e00c10">]</text>
</g>
<g transform="translate(945.00 744.40) rotate(-90) scale(0.930 1)">
<text class="b" x="-2.92" y="0" font-size="43.60" fill="#e00c10">Log [Z (</text>
<text class="sf" x="162.04" y="0" font-size="45.34" fill="#e00c10">&#937;</text>
<text x="198.28" y="0" font-size="42.73" fill="#000">)</text>
<text class="b" x="212.47" y="0" font-size="43.60" fill="#e00c10">]</text>
</g>
<g transform="translate(946.00 1156.50) rotate(-90) scale(0.930 1)">
<text class="b" x="-2.92" y="0" font-size="43.60" fill="#e00c10">Log [Z (</text>
<text class="sf" x="162.04" y="0" font-size="45.34" fill="#e00c10">&#937;</text>
<text x="198.28" y="0" font-size="42.73" fill="#000">)</text>
<text class="b" x="212.47" y="0" font-size="43.60" fill="#e00c10">]</text>
</g>
<text class="b" x="360.86" y="1348.60" font-size="49.90" fill="#000" textLength="271.53" lengthAdjust="spacingAndGlyphs">Log [f (Hz)]</text>
<text class="b" x="154.72" y="410.30" font-size="38.00" fill="#000" textLength="28.53" lengthAdjust="spacingAndGlyphs">A</text>
<text class="b" x="154.41" y="826.30" font-size="38.00" fill="#000" textLength="27.95" lengthAdjust="spacingAndGlyphs">B</text>
<text class="b" x="154.84" y="1229.80" font-size="38.00" fill="#000" textLength="27.39" lengthAdjust="spacingAndGlyphs">C</text>
</g></svg></body></html>
